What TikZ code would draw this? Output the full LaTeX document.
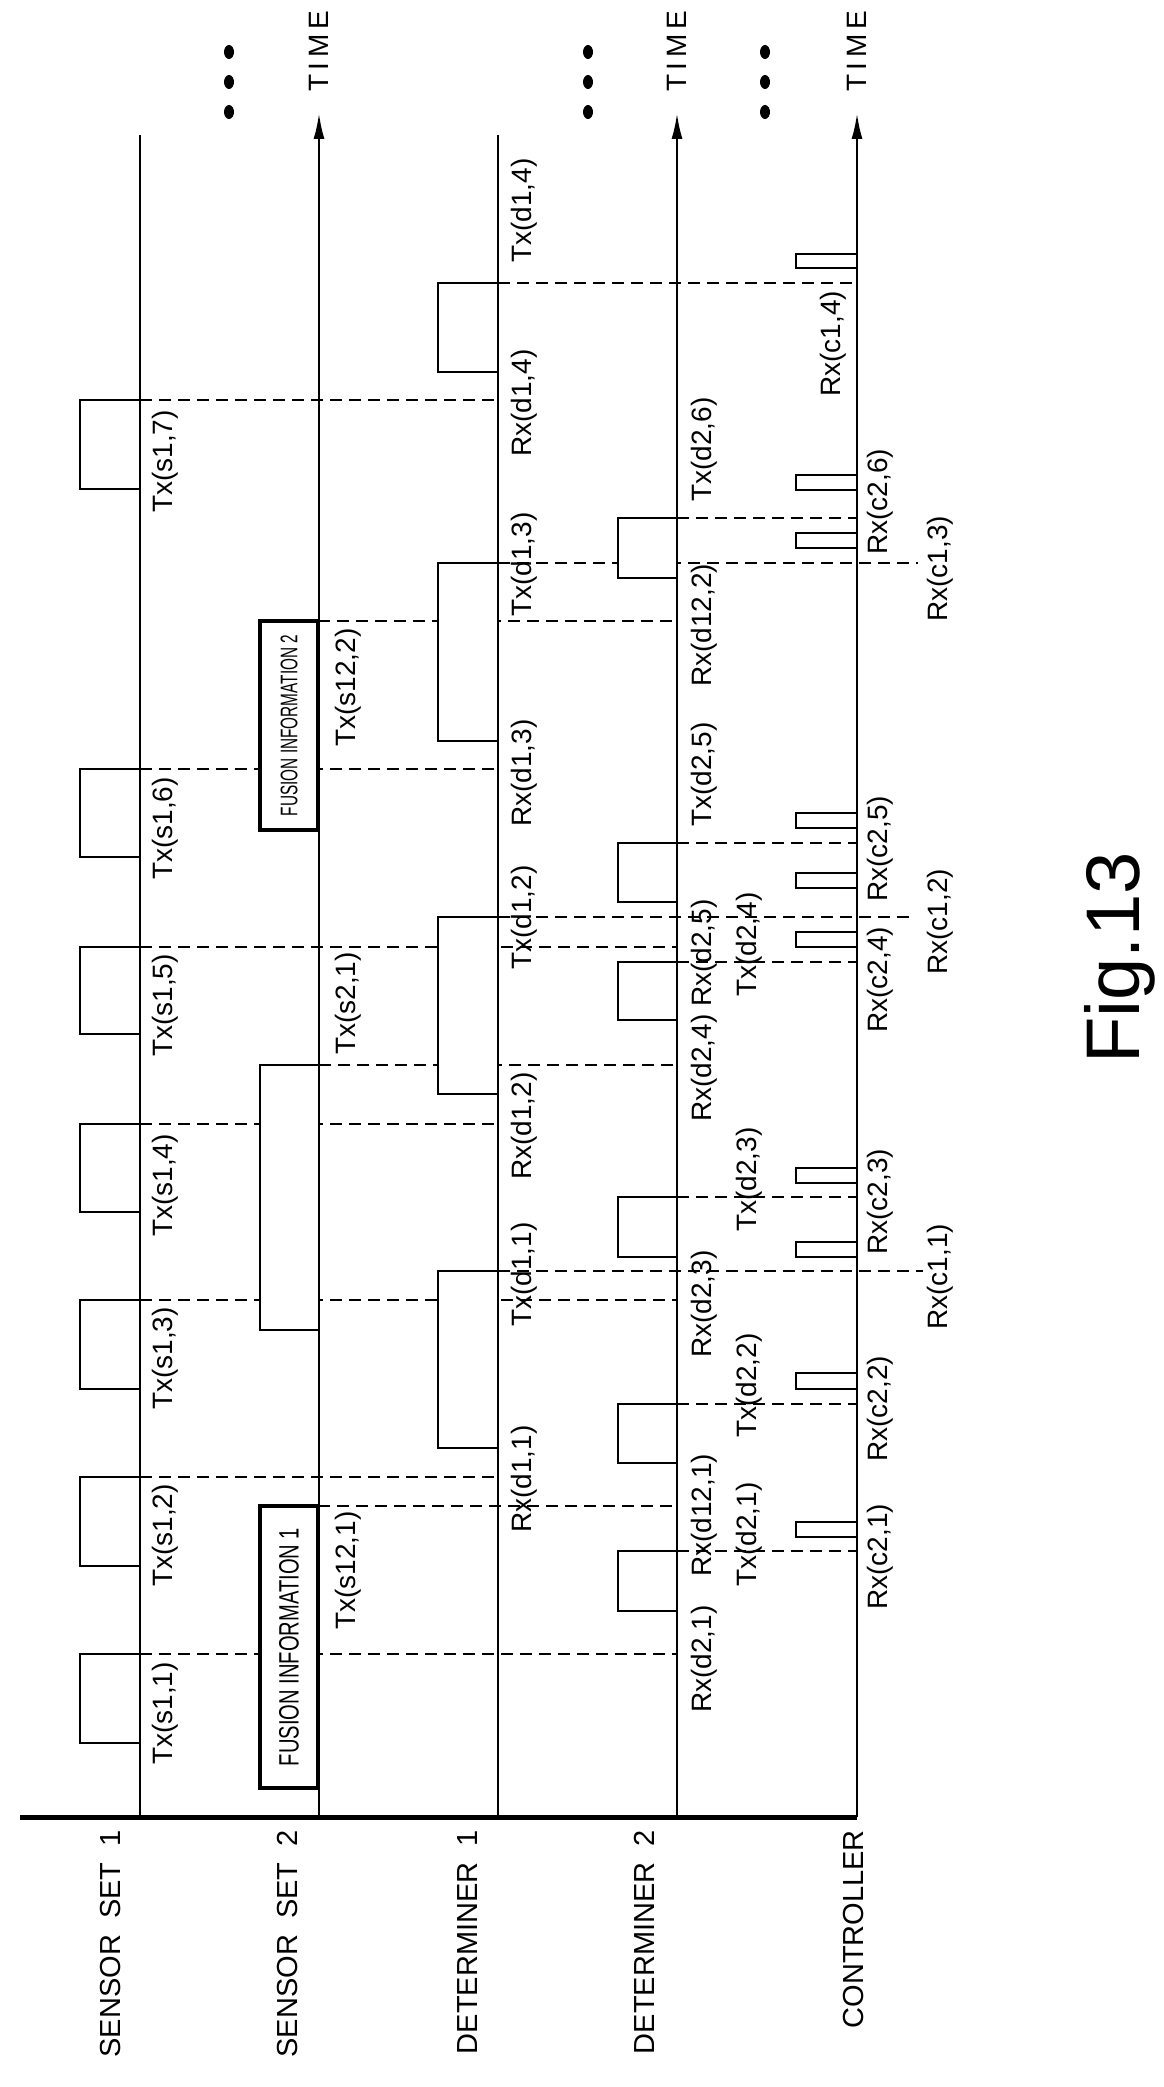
\documentclass[tikz,border=0pt]{standalone}
\usepackage{fontspec}
\setmainfont{Liberation Sans}
\usetikzlibrary{arrows.meta}
\tikzset{axis/.style={draw, line width=2.5pt}}
\tikzset{pulse/.style={draw, fill=white, line width=2.5pt}}
\tikzset{guide/.style={draw, dashed, line width=2pt, dash pattern=on 12pt off 7pt}}
\tikzset{thinguide/.style={draw, line width=1.2pt, dash pattern=on 12pt off 7pt}}
\tikzset{lbl/.style={rotate=90, anchor=west, inner sep=0, font=\fontsize{28}{30}\selectfont}}
\tikzset{lane/.style={rotate=90, anchor=east, inner sep=0, font=\fontsize{29}{31}\selectfont}}
\tikzset{fusion/.style={draw, fill=white, line width=4.5pt}}

\begin{document}
\begin{tikzpicture}[x=1pt, y=-1pt]
    \useasboundingbox (0,0) rectangle (1163,2087);

    % guide lines
    \foreach \y/\xa/\xb in {1654/140/677, 1477/140/498, 1300/140/677, 1124/140/498,
        947/140/677, 769/140/498, 400/140/498, 1506/318/677, 1065/319/677,
        1271/498/923, 917/498/914, 563/498/918, 283/498/857,
        1551/677/857, 1404/677/857, 1197/677/857, 843/677/857, 518/677/857}
      \draw[guide] (\xa,\y) -- (\xb,\y);
    \draw[thinguide] (318,621) -- (677,621);
    \draw[thinguide] (677,962) -- (857,962);

    % pulses
    \foreach \t/\b in {1654/1743, 1477/1566, 1300/1389, 1124/1212, 947/1034, 769/857, 400/489}
      \draw[pulse] (140,\t) -- (80,\t) -- (80,\b) -- (140,\b);
    \draw[pulse] (319,1065) -- (260,1065) -- (260,1330) -- (319,1330);
    \foreach \t/\b in {1271/1448, 917/1094, 563/741, 283/372}
      \draw[pulse] (498,\t) -- (438,\t) -- (438,\b) -- (498,\b);
    \foreach \t/\b in {1551/1611, 1404/1463, 1197/1257, 962/1020, 843/902, 518/578}
      \draw[pulse] (677,\t) -- (618,\t) -- (618,\b) -- (677,\b);
    \foreach \t/\b in {1522/1537, 1373/1389, 1242/1257, 1168/1183, 932/947,
        873/888, 813/828, 533/548, 475/490, 254/268}
      \draw[pulse] (857,\t) -- (796,\t) -- (796,\b) -- (857,\b);

    % fusion boxes
    \node[fusion, minimum width=58pt, minimum height=282pt, inner sep=0] (fus1) at (289,1647) {};
    \node[rotate=90, font=\fontsize{28}{30}\selectfont] at (fus1.center) {\scalebox{0.72}[1]{FUSION INFORMATION 1}};
    \node[fusion, minimum width=58pt, minimum height=209pt, inner sep=0] (fus2) at (289,725.5) {};
    \node[rotate=90, font=\fontsize{24}{26}\selectfont] at (fus2.center) {\scalebox{0.64}[1]{FUSION INFORMATION 2}};

    % time axes
    \foreach \x in {140, 498}
      \draw[axis] (\x,1817) -- (\x,135);
    \foreach \x in {319, 677, 857} {
      \draw[axis, -{Latex[length=26pt, width=11pt]}] (\x,1817) -- (\x,113);
      \node[lbl] at (\x,92) {T\,I\,M\,E};
    }
    \draw[line width=5pt] (20,1817) -- (857,1817);
    \foreach \x in {229, 588, 765}
      \foreach \y in {52, 82, 112}
        \fill (\x,\y) ellipse (5pt and 7pt);

    % labels
    \foreach \x/\y/\txt in {165/1765/{Tx(s1,1)}, 165/1587/{Tx(s1,2)}, 165/1410/{Tx(s1,3)},
        165/1237/{Tx(s1,4)}, 165/1057/{Tx(s1,5)}, 165/880/{Tx(s1,6)}, 165/513/{Tx(s1,7)},
        348/1630/{Tx(s12,1)}, 348/1055/{Tx(s2,1)}, 348/747/{Tx(s12,2)},
        524/1533/{Rx(d1,1)}, 524/1327/{Tx(d1,1)}, 524/1180/{Rx(d1,2)}, 524/970/{Tx(d1,2)},
        524/827/{Rx(d1,3)}, 524/617/{Tx(d1,3)}, 524/457/{Rx(d1,4)}, 524/263/{Tx(d1,4)},
        704/1713/{Rx(d2,1)}, 704/1577/{Rx(d12,1)}, 749/1587/{Tx(d2,1)}, 749/1438/{Tx(d2,2)},
        704/1358/{Rx(d2,3)}, 749/1232/{Tx(d2,3)}, 704/1122/{Rx(d2,4)}, 704/1007/{Rx(d2,5)},
        749/997/{Tx(d2,4)}, 704/827/{Tx(d2,5)}, 704/687/{Rx(d12,2)}, 704/502/{Tx(d2,6)},
        880/1610/{Rx(c2,1)}, 880/1462/{Rx(c2,2)}, 940/1330/{Rx(c1,1)}, 880/1255/{Rx(c2,3)},
        880/1033/{Rx(c2,4)}, 940/975/{Rx(c1,2)}, 880/902/{Rx(c2,5)}, 880/555/{Rx(c2,6)},
        940/622/{Rx(c1,3)}, 833/397/{Rx(c1,4)}}
      \node[lbl] at (\x,\y) {\txt};

    \node[lane] (ss1) at (111,1830) {SENSOR\ \ SET\ \ 1};
    \node[lane] (ss2) at (288,1830) {SENSOR\ \ SET\ \ 2};
    \node[lane] (det1) at (468,1830) {DETERMINER\ \ 1};
    \node[lane] (det2) at (644,1830) {DETERMINER\ \ 2};
    \node[lane] (ctrl) at (854,1830) {CONTROLLER};
    \node[rotate=90, font=\fontsize{76}{80}\selectfont] (fig) at (1120,958) {Fig.13};
\end{tikzpicture}
\end{document}
